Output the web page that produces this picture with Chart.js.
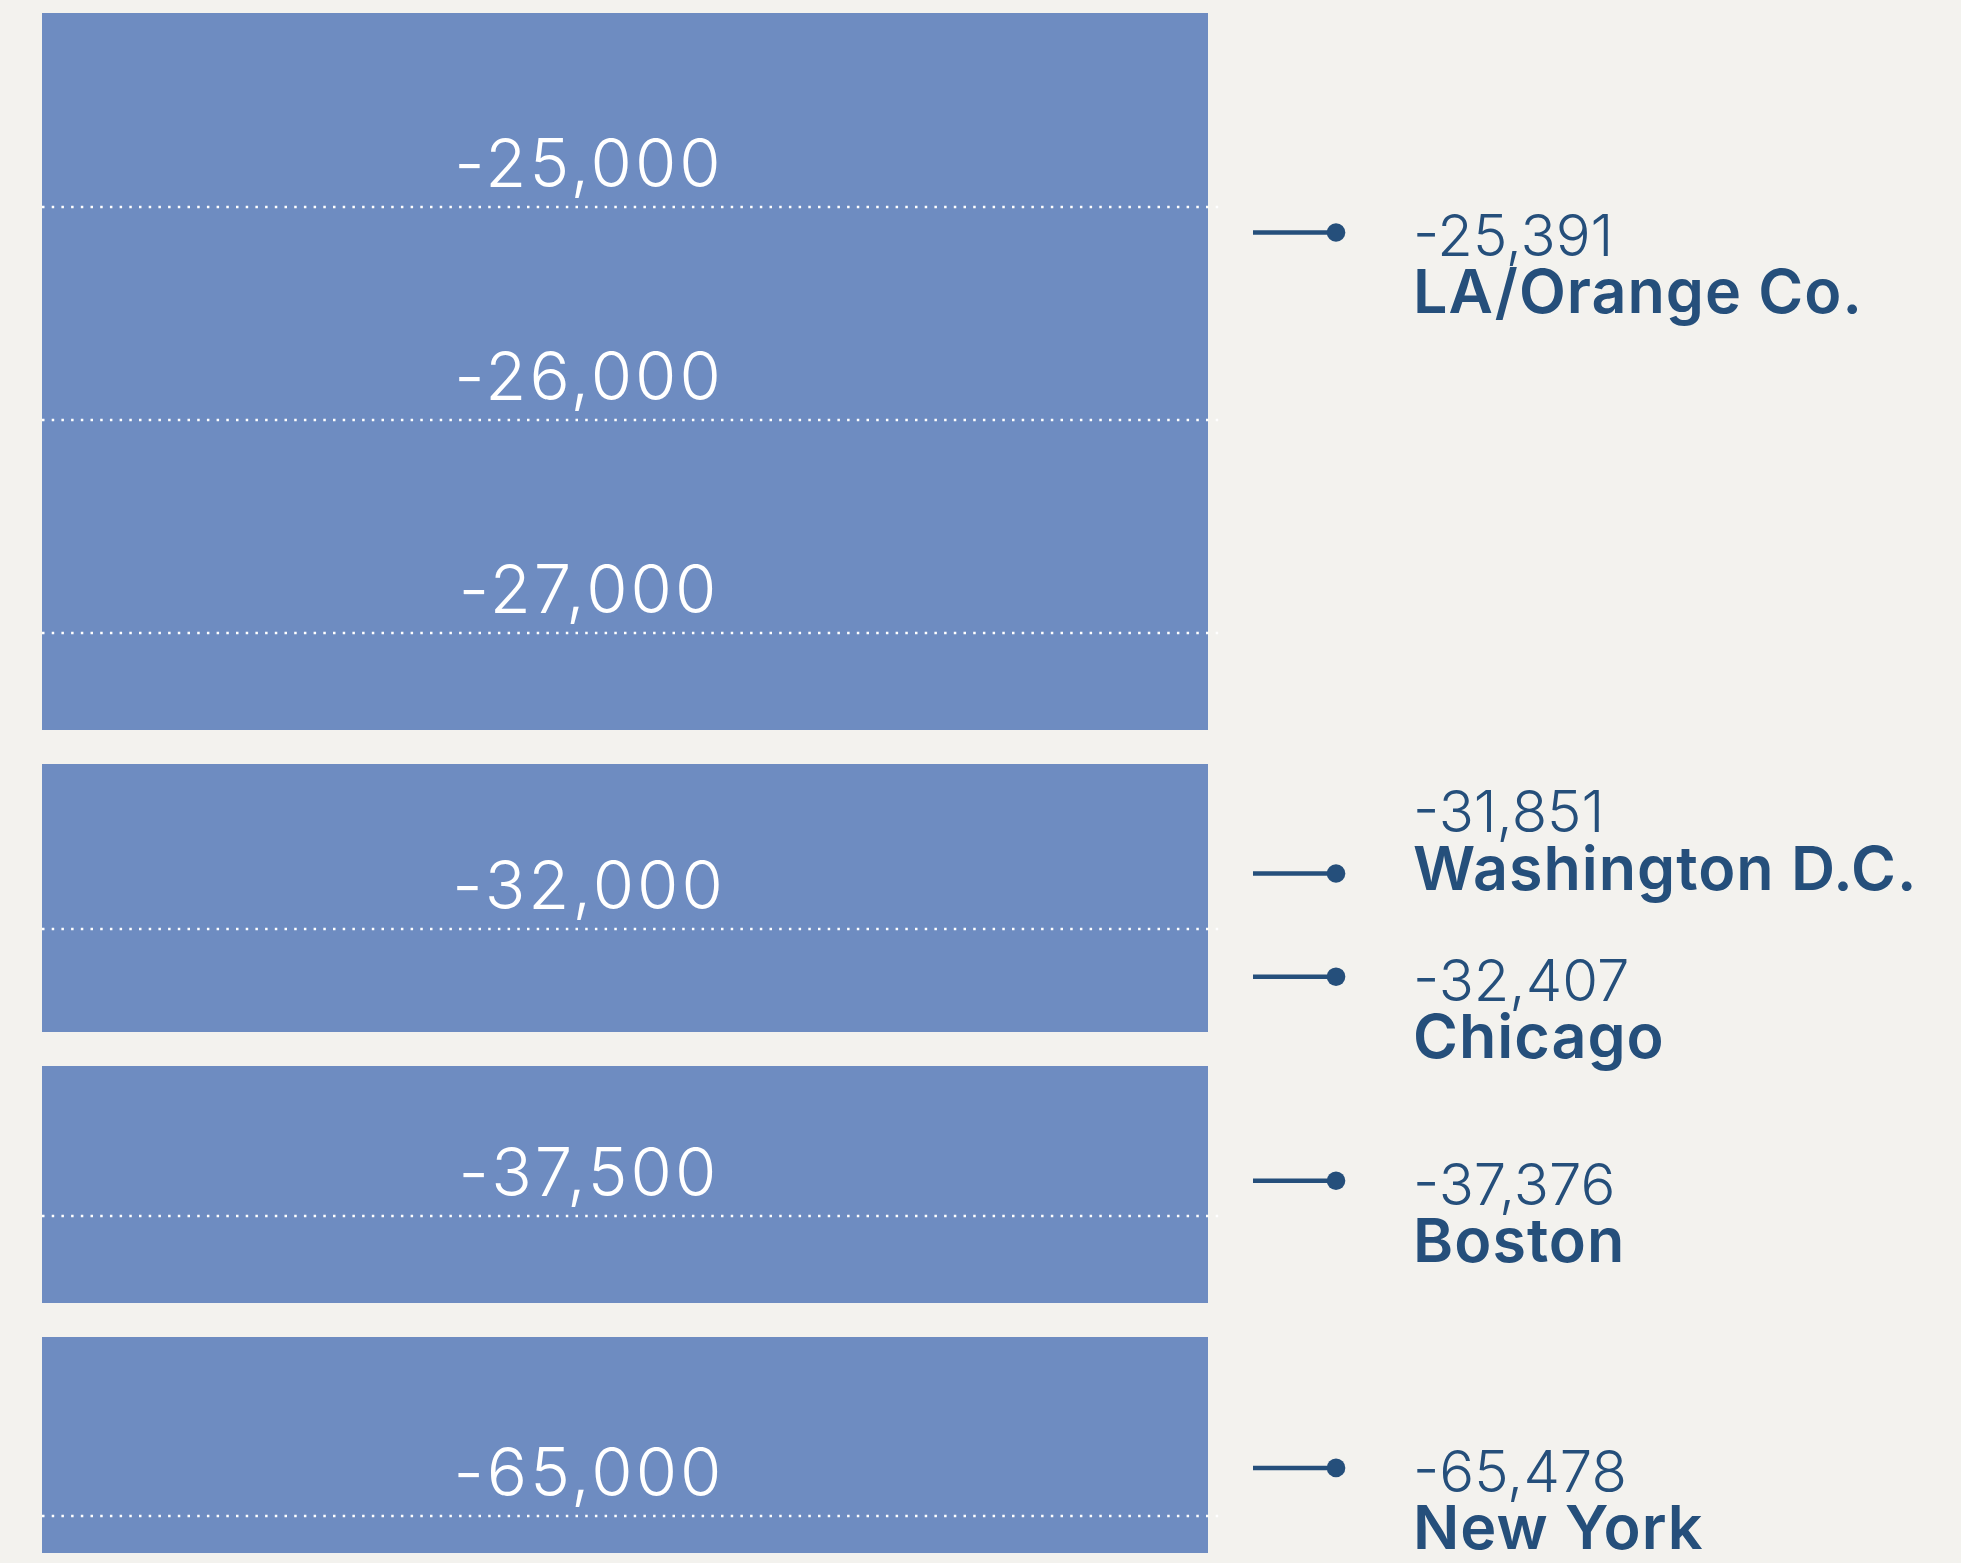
<!DOCTYPE html>
<html>
<head>
<meta charset="utf-8">
<script src="https://cdn.jsdelivr.net/npm/chart.js@4.4.0/dist/chart.umd.min.js"></script>
<style>
  body { margin: 0; background: #f3f2ee; }
  #wrap { position: relative; width: 1961px; height: 1563px; overflow: hidden; }
  #wrap canvas { position: absolute; left: 0; }
</style>
</head>
<body>
<div id="wrap"></div>
<script>
// metro areas and the number printed next to each
var cities = ['LA/Orange Co.', 'Washington D.C.', 'Chicago', 'Boston', 'New York'];
var cityValues = [-25391, -31851, -32407, -37376, -65478];
// which axis segment each city belongs to
var cityPanel = [0, 1, 1, 2, 3];
// where each marker sits against the gridlines
var markerAt = [-25120, -31740, -32225, -37335, -64775];

// broken axis: one segment per blue panel
var panelTicks = [[-25000, -26000, -27000], [-32000], [-37500], [-65000]];
var panelMax = [-24090, -31225, -36795, -64160];
var panelMin = [-27455, -32485, -37910, -65175];

// layout (pixels) - canvases overlap a bit so labels never get cut
var canvasTop = [0, 700, 1000, 1280];
var canvasH = [800, 400, 360, 283];
var padTop = [13, 64, 66, 57];
var padBottom = [70, 68, 57, 10];

var NAVY = '#254f7b';
var PANEL = '#6e8cc1';
var STUB_X0 = 1.0386, STUB_X1 = 1.1098;   // marker stub, in panel widths
var aboveFor = ['Washington D.C.'];        // label goes above the marker

var panelPlugin = {
  id: 'panel',
  beforeDraw: function(chart) {
    var ctx = chart.ctx, a = chart.chartArea, x = chart.scales.x, y = chart.scales.y;
    var right = x.getPixelForValue(1);
    ctx.save();
    ctx.fillStyle = PANEL;
    ctx.fillRect(a.left, a.top, right - a.left, a.bottom - a.top);

    // dotted gridlines + tick labels
    ctx.strokeStyle = '#ffffff';
    ctx.lineWidth = 2.5;
    ctx.setLineDash([2.5, 7.2]);
    ctx.fillStyle = '#ffffff';
    ctx.font = '300 67px Inter';
    ctx.letterSpacing = '3px';
    ctx.textAlign = 'center';
    ctx.textBaseline = 'alphabetic';
    y.ticks.forEach(function(t) {
      var py = Math.round(y.getPixelForValue(t.value));
      ctx.beginPath();
      ctx.moveTo(a.left, py);
      ctx.lineTo(right + 17, py);
      ctx.stroke();
      ctx.fillText(t.value.toLocaleString('en-US'), a.left + 547, py - 20);
    });
    ctx.restore();
  },
  afterDatasetsDraw: function(chart) {
    var ctx = chart.ctx;
    ctx.save();
    ctx.fillStyle = NAVY;
    ctx.textAlign = 'left';
    ctx.textBaseline = 'alphabetic';
    chart.data.datasets.forEach(function(ds, i) {
      var pt = chart.getDatasetMeta(i).data[0];
      var tx = pt.x + 77;
      var numY, nameY;
      if (aboveFor.indexOf(ds.label) >= 0) {
        numY = pt.y - 42; nameY = pt.y + 16;
      } else {
        numY = pt.y + 24; nameY = pt.y + 81;
      }
      ctx.font = '300 58px Inter';
      ctx.letterSpacing = '0px';
      ctx.fillText(ds.value.toLocaleString('en-US'), tx, numY);
      ctx.font = '600 61px Inter';
      ctx.letterSpacing = '1px';
      ctx.fillText(ds.label, tx, nameY);
    });
    ctx.restore();
  }
};

var wrap = document.getElementById('wrap');

panelTicks.forEach(function(ticks, p) {
  var cv = document.createElement('canvas');
  cv.width = 1961;
  cv.height = canvasH[p];
  cv.style.top = canvasTop[p] + 'px';
  wrap.appendChild(cv);

  var sets = [];
  cities.forEach(function(c, k) {
    if (cityPanel[k] !== p) return;
    sets.push({
      label: c,
      value: cityValues[k],
      // dot first, then the stub start
      data: [{x: STUB_X1, y: markerAt[k]}, {x: STUB_X0, y: markerAt[k]}],
      borderColor: NAVY,
      borderWidth: 4.5,
      pointRadius: [9.3, 0],
      pointHoverRadius: [9.3, 0],
      pointBackgroundColor: NAVY,
      pointBorderWidth: 0
    });
  });

  new Chart(cv.getContext('2d'), {
    type: 'line',
    data: { datasets: sets },
    options: {
      responsive: false,
      animation: false,
      devicePixelRatio: 1,
      events: [],
      layout: { padding: { left: 42, right: 170, top: padTop[p], bottom: padBottom[p] } },
      plugins: { legend: { display: false }, tooltip: { enabled: false } },
      scales: {
        x: { type: 'linear', display: false, min: 0, max: 1.5 },
        y: {
          type: 'linear',
          display: false,
          min: panelMin[p],
          max: panelMax[p],
          afterBuildTicks: function(s) {
            s.ticks = ticks.map(function(v) { return { value: v }; });
          }
        }
      }
    },
    plugins: [panelPlugin]
  });
});
</script>
</body>
</html>
